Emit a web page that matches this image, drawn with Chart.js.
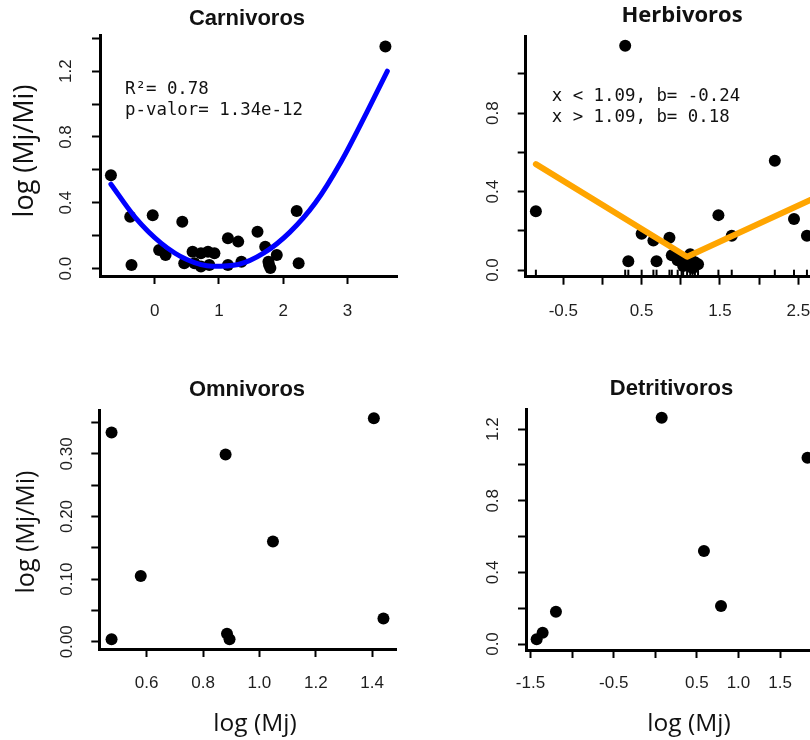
<!DOCTYPE html>
<html lang="es">
<head>
<meta charset="utf-8">
<title>log (Mj/Mi) vs log (Mj)</title>
<script src="https://cdn.jsdelivr.net/npm/chart.js@4.4.1/dist/chart.umd.min.js"></script>
<style>
  html, body { margin: 0; padding: 0; background: #fff; }
  body { width: 810px; height: 740px; overflow: hidden; position: relative; }
  canvas { position: absolute; }
  #c-carn { left: 0; top: 0; }
  #c-herb { left: 420px; top: 0; }
  #c-omni { left: 0; top: 340px; }
  #c-detr { left: 420px; top: 340px; }
</style>
</head>
<body>
<canvas id="c-carn" width="410" height="335"></canvas>
<canvas id="c-herb" width="420" height="335"></canvas>
<canvas id="c-omni" width="410" height="400"></canvas>
<canvas id="c-detr" width="420" height="400"></canvas>
<script>
// ─── DATA ────────────────────────────────────────────────────────
// Carnivoros: points + quadratic fit
const CARN_X = [-0.68, -0.38, -0.36, -0.03, 0.07, 0.17, 0.43, 0.46, 0.59, 0.62, 0.72, 0.72, 0.83, 0.85,
                0.93, 1.14, 1.14, 1.30, 1.35, 1.60, 1.72, 1.77, 1.78, 1.80, 1.90, 2.21, 2.24, 3.59];
const CARN_Y = [0.568, 0.315, 0.022, 0.325, 0.113, 0.083, 0.285, 0.033, 0.103, 0.033, 0.093, 0.012, 0.103, 0.022,
                0.093, 0.184, 0.022, 0.164, 0.042, 0.224, 0.133, 0.042, 0.022, 0.003, 0.083, 0.35, 0.033, 1.35];
const CARN_FIT_X = [-0.68, -0.3, 0.1, 0.5, 0.9, 1.3, 1.7, 2.1, 2.5, 2.9, 3.3, 3.62];
const CARN_FIT_Y = [0.513, 0.31, 0.155, 0.055, 0.014, 0.025, 0.095, 0.22, 0.40, 0.65, 0.95, 1.20];
const CARN_X_TICKS  = [0, 1, 2, 3];
const CARN_X_LABELS = ['0', '1', '2', '3'];
const CARN_Y_TICKS  = [0, 0.2, 0.4, 0.6, 0.8, 1.0, 1.2, 1.4];
const CARN_Y_LABELS = ['0.0', '', '0.4', '', '0.8', '', '1.2', ''];

// Herbivoros: points + segmented fit (break at 1.09)
const HERB_X = [-0.85, 0.29, 0.33, 0.50, 0.65, 0.69, 0.855, 0.885, 0.96, 1.01, 1.03, 1.08, 1.12, 1.15,
                1.18, 1.22, 1.48, 1.65, 2.20, 2.445, 2.61];
const HERB_Y = [0.30, 1.144, 0.045, 0.185, 0.15, 0.045, 0.165, 0.075, 0.05, 0.06, 0.02, 0.03, 0.08, 0.01,
                0.04, 0.03, 0.28, 0.175, 0.557, 0.26, 0.175];
const HERB_SEG_X = [-0.85, 1.08, 2.75];
const HERB_SEG_Y = [0.54, 0.068, 0.375];
const HERB_X_TICKS  = [-0.5, 0, 0.5, 1.0, 1.5, 2.0, 2.5];
const HERB_X_LABELS = ['-0.5', '', '0.5', '', '1.5', '', '2.5'];
const HERB_Y_TICKS  = [0, 0.2, 0.4, 0.6, 0.8, 1.0];
const HERB_Y_LABELS = ['0.0', '', '0.4', '', '0.8', ''];

// Omnivoros
const OMNI_X = [0.4755, 0.4755, 0.579, 0.88, 0.885, 0.894, 1.048, 1.406, 1.44];
const OMNI_Y = [0.334, 0.004, 0.105, 0.299, 0.013, 0.004, 0.16, 0.357, 0.037];
const OMNI_X_TICKS  = [0.6, 0.8, 1.0, 1.2, 1.4];
const OMNI_X_LABELS = ['0.6', '0.8', '1.0', '1.2', '1.4'];
const OMNI_Y_TICKS  = [0, 0.05, 0.10, 0.15, 0.20, 0.25, 0.30, 0.35];
const OMNI_Y_LABELS = ['0.00', '', '0.10', '', '0.20', '', '0.30', ''];

// Detritivoros
const DETR_X = [-1.426, -1.354, -1.194, 0.077, 0.585, 0.79, 1.83];
const DETR_Y = [0.026, 0.063, 0.18, 1.264, 0.52, 0.212, 1.04];
const DETR_X_TICKS  = [-1.5, -1.0, -0.5, 0, 0.5, 1.0, 1.5, 2.0];
const DETR_X_LABELS = ['-1.5', '', '-0.5', '', '0.5', '1.0', '1.5', ''];
const DETR_Y_TICKS  = [0, 0.2, 0.4, 0.6, 0.8, 1.0, 1.2];
const DETR_Y_LABELS = ['0.0', '', '0.4', '', '0.8', '', '1.2'];

// ─── STYLE ───────────────────────────────────────────────────────
const TICK_FONT  = { family: '"Liberation Sans", Arial, sans-serif', size: 17 };
const TITLE_FONT = 'bold 22px "Liberation Sans", Arial, sans-serif';
const HERB_FONT  = 'bold 22px "Open Sans", sans-serif';
const LAB_FAMILY = '"Open Sans", sans-serif';
const MONO_FONT  = '17.4px "DejaVu Sans Mono", monospace';

// ─── HELPERS ─────────────────────────────────────────────────────
function pts(xs, ys) { return xs.map((x, i) => ({ x, y: ys[i] })); }

// R-like axis: fixed ticks, some labels dropped, thick L border
function rAxis(cfg) {
  return {
    type: 'linear',
    min: cfg.min, max: cfg.max, bounds: 'data',
    afterBuildTicks: s => { s.ticks = cfg.ticks.map(v => ({ value: v })); },
    afterFit: s => {
      if (s.isHorizontal()) s.height = cfg.size; else s.width = cfg.size;
      s.paddingTop = s.paddingBottom = s.paddingLeft = s.paddingRight = 0;
    },
    border: { display: true, width: 3, color: '#000' },
    grid: { drawOnChartArea: false, drawTicks: true, tickLength: 8, tickWidth: 2, tickColor: '#000' },
    ticks: {
      autoSkip: false, padding: cfg.pad, color: '#1e1e1e', font: TICK_FONT,
      minRotation: cfg.rotate || 0, maxRotation: cfg.rotate || 0,
      crossAlign: cfg.rotate ? 'center' : 'near',
      callback: (v, i) => cfg.labels[i]
    }
  };
}

function pointSet(data) {
  return { data, order: 1, pointRadius: 6, pointStyle: 'circle', backgroundColor: '#000', borderWidth: 0, clip: false };
}

function fitLine(data, color, width, curved) {
  return {
    data, order: 0, showLine: true, pointRadius: 0, borderColor: color, borderWidth: width,
    borderCapStyle: 'round', borderJoinStyle: 'round',
    cubicInterpolationMode: curved ? 'monotone' : 'default', tension: 0, clip: false
  };
}

// free text: titles, axis names, fit notes
function textLayer(items) {
  return {
    id: 'textLayer',
    afterDraw(chart) {
      const ctx = chart.ctx;
      items.forEach(t => {
        ctx.save();
        ctx.font = t.font;
        ctx.fillStyle = t.color || '#111';
        ctx.textAlign = t.align || 'center';
        ctx.textBaseline = 'middle';
        ctx.translate(t.x, t.y);
        if (t.rot) ctx.rotate(t.rot);
        ctx.fillText(t.text, 0, 0);
        ctx.restore();
      });
    }
  };
}

// rug marks along the x axis
const rugPlugin = {
  id: 'rug',
  afterDatasetsDraw(chart) {
    const { ctx, chartArea: { bottom }, scales: { x } } = chart;
    ctx.save();
    ctx.strokeStyle = '#000';
    ctx.lineWidth = 2;
    HERB_X.forEach(v => {
      const px = x.getPixelForValue(v);
      ctx.beginPath(); ctx.moveTo(px, bottom - 1); ctx.lineTo(px, bottom - 7); ctx.stroke();
    });
    ctx.restore();
  }
};

function panel(id, datasets, xAxis, yAxis, pad, extra) {
  return new Chart(document.getElementById(id), {
    type: 'scatter',
    data: { datasets },
    options: {
      responsive: false, animation: false, events: [],
      layout: { padding: pad },
      plugins: { legend: { display: false }, tooltip: { enabled: false } },
      scales: { x: xAxis, y: yAxis }
    },
    plugins: extra
  });
}

// ─── CARNIVOROS ──────────────────────────────────────────────────
panel('c-carn',
  [pointSet(pts(CARN_X, CARN_Y)), fitLine(pts(CARN_FIT_X, CARN_FIT_Y), '#0000ff', 5, true)],
  rAxis({ min: -0.85, max: 3.77, ticks: CARN_X_TICKS, labels: CARN_X_LABELS, size: 59, pad: 17.5 }),
  rAxis({ min: -0.045, max: 1.42, ticks: CARN_Y_TICKS, labels: CARN_Y_LABELS, size: 100, pad: 14, rotate: 90 }),
  { left: 0, top: 35, right: 13, bottom: 0 },
  [textLayer([
    { text: 'Carnivoros', x: 247, y: 19, font: TITLE_FONT },
    { text: 'log (Mj/Mi)', x: 25, y: 151, font: '27px ' + LAB_FAMILY, rot: -Math.PI / 2 },
    { text: 'R\u00b2= 0.78', x: 125, y: 89, font: MONO_FONT, align: 'left' },
    { text: 'p-valor= 1.34e-12', x: 125, y: 110, font: MONO_FONT, align: 'left' }
  ])]
);

// ─── HERBIVOROS ──────────────────────────────────────────────────
panel('c-herb',
  [pointSet(pts(HERB_X, HERB_Y)), fitLine(pts(HERB_SEG_X, HERB_SEG_Y), '#ffa500', 6, false)],
  rAxis({ min: -0.98, max: 2.815, ticks: HERB_X_TICKS, labels: HERB_X_LABELS, size: 58.3, pad: 16.8 }),
  rAxis({ min: -0.034, max: 1.19, ticks: HERB_Y_TICKS, labels: HERB_Y_LABELS, size: 105.7, pad: 12.6, rotate: 90 }),
  { left: 0, top: 36.7, right: 17, bottom: 0 },
  [rugPlugin, textLayer([
    { text: 'Herbivoros', x: 262, y: 16, font: HERB_FONT },
    { text: 'x < 1.09, b= -0.24', x: 131.7, y: 96.7, font: MONO_FONT, align: 'left' },
    { text: 'x > 1.09, b= 0.18', x: 131.7, y: 117.3, font: MONO_FONT, align: 'left' }
  ])]
);

// ─── OMNIVOROS ───────────────────────────────────────────────────
panel('c-omni',
  [pointSet(pts(OMNI_X, OMNI_Y))],
  rAxis({ min: 0.432, max: 1.487, ticks: OMNI_X_TICKS, labels: OMNI_X_LABELS, size: 91, pad: 16.1 }),
  rAxis({ min: -0.0115, max: 0.370, ticks: OMNI_Y_TICKS, labels: OMNI_Y_LABELS, size: 99.3, pad: 7.8, rotate: 90 }),
  { left: 0, top: 70, right: 13.3, bottom: 0 },
  [textLayer([
    { text: 'Omnivoros', x: 247, y: 50, font: TITLE_FONT },
    { text: 'log (Mj/Mi)', x: 26.7, y: 192, font: '25px ' + LAB_FAMILY, rot: -Math.PI / 2 },
    { text: 'log (Mj)', x: 255, y: 384, font: '24.5px ' + LAB_FAMILY }
  ])]
);

// ─── DETRITIVOROS ────────────────────────────────────────────────
panel('c-detr',
  [pointSet(pts(DETR_X, DETR_Y))],
  rAxis({ min: -1.554, max: 2.016, ticks: DETR_X_TICKS, labels: DETR_X_LABELS, size: 90, pad: 15.1 }),
  rAxis({ min: -0.0335, max: 1.311, ticks: DETR_Y_TICKS, labels: DETR_Y_LABELS, size: 106, pad: 13.2, rotate: 90 }),
  { left: 0, top: 69.3, right: 17, bottom: 0 },
  [textLayer([
    { text: 'Detritivoros', x: 251.5, y: 49, font: TITLE_FONT },
    { text: 'log (Mj)', x: 269, y: 384, font: '24.5px ' + LAB_FAMILY }
  ])]
);
</script>
</body>
</html>
